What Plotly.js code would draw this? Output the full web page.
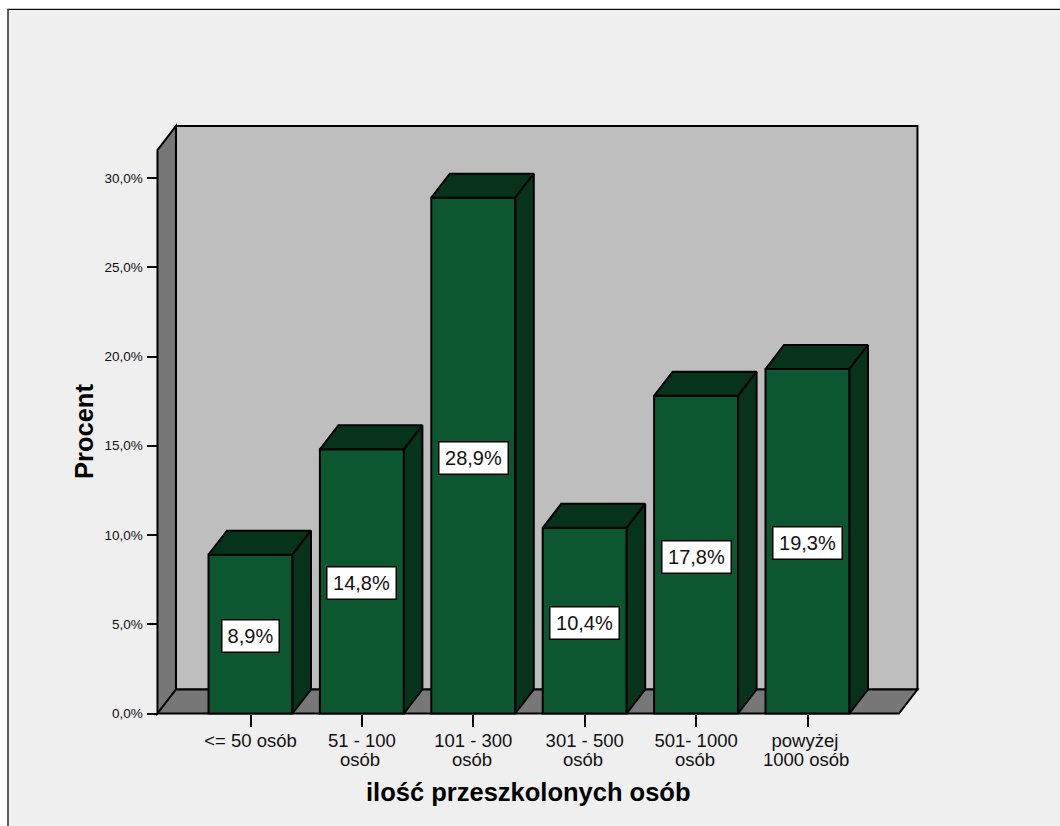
<!DOCTYPE html>
<html lang="pl">
<head>
<meta charset="utf-8">
<title>ilość przeszkolonych osób</title>
<script src="https://cdn.plot.ly/plotly-3.0.1.min.js"></script>
<style>
  html, body { margin: 0; padding: 0; background: #ffffff; width: 1060px; height: 826px; overflow: hidden; }
  #panel { position: absolute; left: 7px; top: 9px; right: 0; bottom: 0; background: #efefef;
           border-left: 2px solid #5f5f5f; border-top: 1px solid #0a0a0a; box-shadow: 0 -1px 0 #c8c8c8; }
  #chart { position: absolute; left: 0; top: 0; width: 1060px; height: 826px; }
</style>
</head>
<body>
<div id="panel"></div>
<div id="chart"></div>
<script>
// Share of respondents by number of people trained
const categoryFirstLines = ['&lt;= 50 osób', '51 - 100', '101 - 300', '301 - 500', '501- 1000', 'powyżej\u00a0'];
const categorySecondLines = ['', 'osób', 'osób', 'osób', 'osób', '1000 osób'];
const percentages = [8.9, 14.8, 28.9, 10.4, 17.8, 19.3];
const percentLabels = ['8,9%', '14,8%', '28,9%', '10,4%', '17,8%', '19,3%'];
const yTickValues = [0, 5, 10, 15, 20, 25, 30];
const yTickLabels = ['0,0%', '5,0%', '10,0%', '15,0%', '20,0%', '25,0%', '30,0%'];

// Oblique box projection, expressed in axis units
const depthX = 0.166;
const depthY = 1.345;
const barHalf = 0.377;
const boxLeft = -0.835, boxRight = 5.987, boxTop = 32.91;

// Axis scale: pixels per unit, and where the category 0 / value 0 origin sits
const pxPerX = 111.4, pxPerY = 17.85, originX = 250.5, originY = 713.5;

// Plot area, slightly larger than the box so its outer edges are not clipped
const W = 1060, H = 826, L = 150, R = 926, T = 118, B = 722;
const toXVal = px => (px - originX) / pxPerX;
const toYVal = py => (originY - py) / pxPerY;
const paperX = px => (px - L) / (R - L);
const paperY = py => (B - py) / (B - T);

const faceColor = '#0c5730', shadeColor = '#07331b';
const wallColor = '#777777', backColor = '#bebebe';
const inkWidth = 2;
const fontFamily = 'Liberation Sans, Arial, sans-serif';

const indices = percentages.map((_, i) => i);

const polyPath = pts => 'M' + pts.map(p => p.join(',')).join('L') + 'Z';
const wallShape = (pts, fill) => ({
  type: 'path', layer: 'below', xref: 'x', yref: 'y', path: polyPath(pts),
  fillcolor: fill, line: { color: '#000000', width: inkWidth }
});

// Back wall, side wall and floor of the chart box
const shapes = [
  wallShape([[boxLeft + depthX, depthY], [boxRight, depthY], [boxRight, boxTop], [boxLeft + depthX, boxTop]], backColor),
  wallShape([[boxLeft, 0], [boxLeft + depthX, depthY], [boxLeft + depthX, boxTop], [boxLeft, boxTop - depthY]], wallColor),
  wallShape([[boxLeft, 0], [boxRight - depthX, 0], [boxRight, depthY], [boxLeft + depthX, depthY]], wallColor)
];

// Front faces of the columns
const frontBars = {
  type: 'bar', x: indices, y: percentages, width: 2 * barHalf,
  marker: { color: faceColor, line: { color: '#000000', width: inkWidth } },
  hoverinfo: 'skip'
};

// Top and right faces of each column
const sideTraces = [];
percentages.forEach((v, i) => {
  const l = i - barHalf, r = i + barHalf;
  const faces = [
    [[l, v], [l + depthX, v + depthY], [r + depthX, v + depthY], [r, v], [l, v]],
    [[r, v], [r + depthX, v + depthY], [r + depthX, depthY], [r, 0], [r, v]]
  ];
  faces.forEach(f => sideTraces.push({
    type: 'scatter', mode: 'lines', fill: 'toself', fillcolor: shadeColor,
    x: f.map(p => p[0]), y: f.map(p => p[1]),
    line: { color: '#000000', width: inkWidth, simplify: false },
    hoverinfo: 'skip'
  }));
});

// Value labels in white boxes, centred on each column
const valueBoxes = percentages.map((v, i) => ({
  x: i, y: v / 2, xref: 'x', yref: 'y', yshift: -2,
  text: percentLabels[i], showarrow: false,
  font: { family: fontFamily, size: 20, color: '#111111' },
  width: percentLabels[i].length === 4 ? 50 : 62, height: 24.5,
  bgcolor: '#ffffff', bordercolor: '#000000', borderwidth: 1.5, borderpad: 3
}));

// Second lines of the category labels, set on a tighter leading than a tick label allows
const secondLines = categorySecondLines.map((text, i) => ({
  x: i, xref: 'x', y: paperY(759.5), yref: 'paper', xanchor: 'center', yanchor: 'middle', xshift: -1.5,
  text: text, showarrow: false, font: { family: fontFamily, size: 18.5, color: '#111111' }
})).filter(a => a.text);

const axisTitles = [
  { text: 'ilość przeszkolonych osób', x: paperX(528), y: paperY(792), textangle: 0 },
  { text: 'Procent', x: paperX(84), y: paperY(432), textangle: -90 }
].map(t => ({
  xref: 'paper', yref: 'paper', xanchor: 'center', yanchor: 'middle', showarrow: false,
  font: { family: fontFamily, size: 25.5, color: '#000000', weight: 700 }, ...t
}));

const layout = {
  width: W, height: H, autosize: false, showlegend: false,
  margin: { l: L, r: W - R, t: T, b: H - B, pad: 0 },
  paper_bgcolor: 'rgba(0,0,0,0)', plot_bgcolor: 'rgba(0,0,0,0)',
  font: { family: fontFamily, color: '#111111' },
  xaxis: {
    range: [toXVal(L), toXVal(R)], anchor: 'free', position: paperY(originY),
    tickmode: 'array', tickvals: indices, ticktext: categoryFirstLines,
    ticks: 'outside', ticklen: 12, tickwidth: 2, tickcolor: '#000000', tickangle: 0,
    ticklabelstandoff: -2,
    tickfont: { size: 18.5 }, showgrid: false, zeroline: false, showline: false
  },
  yaxis: {
    range: [toYVal(B), toYVal(T)], anchor: 'free', position: paperX(157.5),
    tickmode: 'array', tickvals: yTickValues, ticktext: yTickLabels,
    ticks: 'outside', ticklen: 11, tickwidth: 2, tickcolor: '#000000',
    ticklabelstandoff: 1,
    tickfont: { size: 13.5 }, showgrid: false, zeroline: false, showline: false
  },
  shapes: shapes,
  annotations: valueBoxes.concat(secondLines, axisTitles)
};

Plotly.newPlot('chart', [frontBars, ...sideTraces], layout, { displayModeBar: false, staticPlot: true });
</script>
</body>
</html>
